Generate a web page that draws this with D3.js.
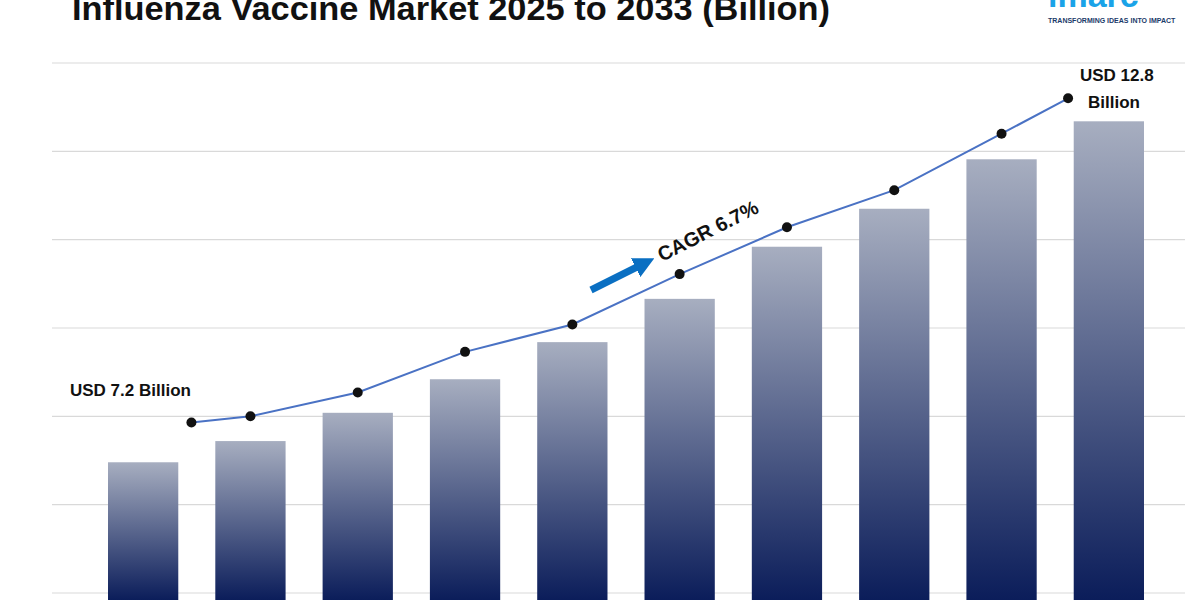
<!DOCTYPE html><html><head><meta charset="utf-8"><script src="https://cdn.jsdelivr.net/npm/d3@7"></script>
<style>body{margin:0;background:#fff}svg{display:block}text{font-family:"Liberation Sans",Arial,sans-serif}</style></head><body><svg id="c" width="1200" height="600"></svg><script>
const years=["2025","2026","2027","2028","2029","2030","2031","2032","2033","2034"];
const barValues=[1.48,1.72,2.04,2.42,2.84,3.33,3.92,4.35,4.91,5.34];
const lineValues=[1.93,2.00,2.27,2.73,3.04,3.61,4.14,4.56,5.20,5.60];
const linePos=[0.45,1,2,3,4,5,6,7,8,8.62];
const gridTicks=[0,1,2,3,4,5,6];
const svg=d3.select("#c");
const x=d3.scaleBand().domain(years).range([108,1144]).paddingInner(0.345).paddingOuter(0);
const y=d3.scaleLinear().domain([0,6]).range([593,63]);
const xi=d3.scaleLinear().domain([0,9]).range([x(years[0])+x.bandwidth()/2,x(years[9])+x.bandwidth()/2]);
const g=svg.append("defs").append("linearGradient").attr("id","bg").attr("x1",0).attr("y1",0).attr("x2",0).attr("y2",1);
g.append("stop").attr("offset","0%").attr("stop-color","#a7aec0");
g.append("stop").attr("offset","100%").attr("stop-color","#0b1d5a");
svg.append("g").selectAll("line").data(gridTicks).join("line").attr("x1",52).attr("x2",1185).attr("y1",d=>y(d)).attr("y2",d=>y(d)).attr("stroke","#d9d9d9").attr("stroke-width",1.2);
svg.append("g").selectAll("rect").data(barValues).join("rect").attr("x",(d,i)=>x(years[i])).attr("width",x.bandwidth()).attr("y",d=>y(d)).attr("height",d=>600-y(d)).attr("fill","url(#bg)");
const line=d3.line().x((d,i)=>xi(linePos[i])).y(d=>y(d));
svg.append("path").datum(lineValues).attr("d",line).attr("fill","none").attr("stroke","#4a72c4").attr("stroke-width",2);
svg.append("g").selectAll("circle").data(lineValues).join("circle").attr("cx",(d,i)=>xi(linePos[i])).attr("cy",d=>y(d)).attr("r",5).attr("fill","#111");
svg.append("text").attr("x",70).attr("y",396).attr("font-size",17).attr("font-weight","bold").attr("fill","#111").text("USD 7.2 Billion");
svg.append("text").attr("x",1080).attr("y",81).attr("font-size",17).attr("font-weight","bold").attr("fill","#111").text("USD 12.8");
svg.append("text").attr("x",1088).attr("y",108).attr("font-size",17).attr("font-weight","bold").attr("fill","#111").text("Billion");
svg.append("defs").append("marker").attr("id","ah").attr("viewBox","0 0 10 10").attr("refX",5).attr("refY",5).attr("markerWidth",3).attr("markerHeight",3).attr("orient","auto").append("path").attr("d","M0,0L10,5L0,10z").attr("fill","#0a6fc2");
svg.append("line").attr("x1",591).attr("y1",290).attr("x2",645).attr("y2",263).attr("stroke","#0a6fc2").attr("stroke-width",7).attr("marker-end","url(#ah)");
svg.append("text").attr("transform","translate(662,262) rotate(-27)").attr("font-size",20).attr("font-weight","bold").attr("fill","#111").text("CAGR 6.7%");
svg.append("text").attr("x",72).attr("y",20).attr("font-size",34).attr("font-weight","bold").attr("fill","#111").attr("textLength",758).attr("lengthAdjust","spacingAndGlyphs").text("Influenza Vaccine Market 2025 to 2033 (Billion)");
svg.append("text").attr("x",1048).attr("y",7).attr("font-size",34).attr("font-weight","bold").attr("fill","#1aa3e8").text("imarc");
svg.append("text").attr("x",1048).attr("y",23).attr("font-size",7).attr("font-weight","bold").attr("fill","#1a3a6a").text("TRANSFORMING IDEAS INTO IMPACT");
</script></body></html>
